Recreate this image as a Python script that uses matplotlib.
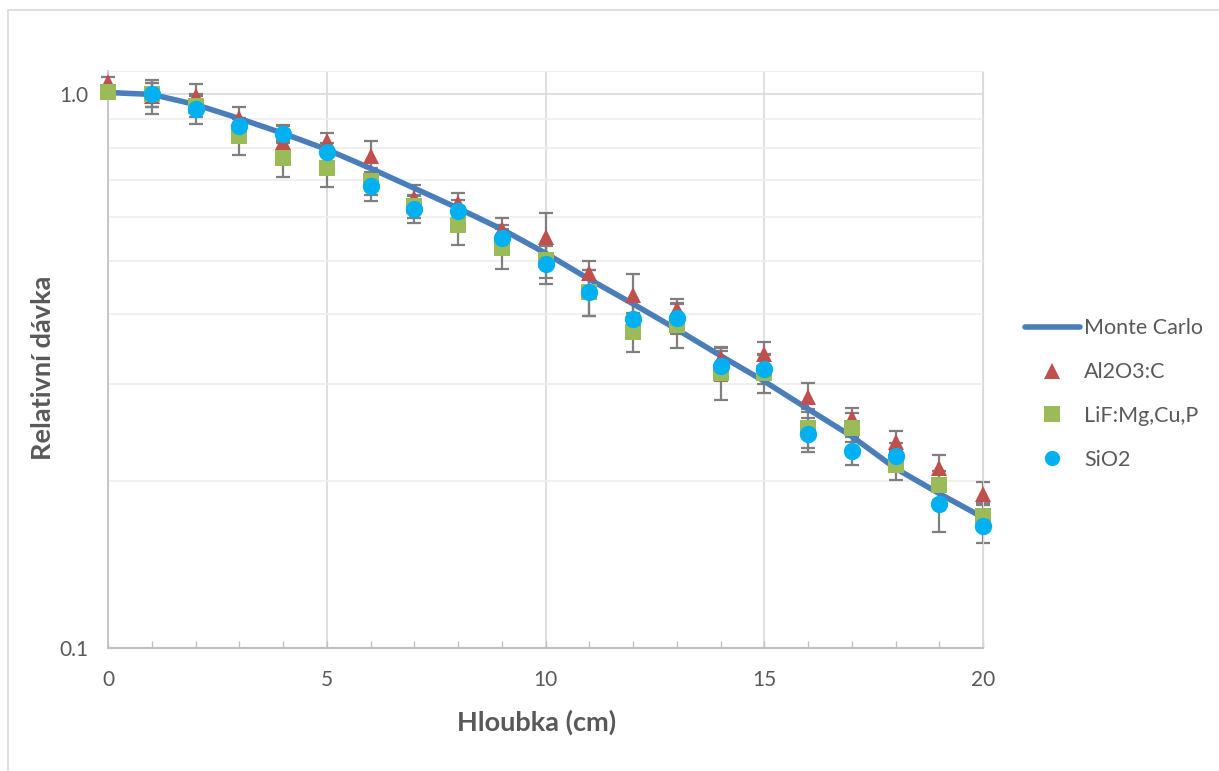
import matplotlib
matplotlib.use('Agg')
import matplotlib.pyplot as plt
import matplotlib.ticker as ticker
from matplotlib.lines import Line2D
from matplotlib.patches import Rectangle
import numpy as np

plt.rcParams['font.family'] = ['Lato', 'DejaVu Sans']

# data
depth = np.arange(0, 21)
monte_carlo = [1.006, 0.998, 0.957, 0.903, 0.849, 0.794, 0.734, 0.676, 0.622, 0.570, 0.516,
               0.463, 0.418, 0.376, 0.337, 0.303, 0.270, 0.241, 0.211, 0.190, 0.172]
al2o3 = [1.053, 0.99, 0.99, 0.903, 0.818, 0.821, 0.772, 0.648, 0.635, 0.570, 0.551,
         0.475, 0.434, 0.409, 0.334, 0.340, 0.284, 0.260, 0.235, 0.211, 0.190]
al2o3_err = [0.02, 0.07, 0.05, 0.045, 0.06, 0.03, 0.05, 0.037, 0.027, 0.027, 0.059,
             0.024, 0.039, 0.017, 0.015, 0.017, 0.017, 0.011, 0.011, 0.012, 0.009]
lif = [1.010, 0.998, 0.950, 0.838, 0.765, 0.734, 0.696, 0.627, 0.580, 0.527, 0.501,
       0.439, 0.372, 0.383, 0.314, 0.313, 0.250, 0.250, 0.214, 0.197, 0.173]
lif_err = [0.02, 0.05, 0.04, 0.062, 0.058, 0.055, 0.04, 0.03, 0.047, 0.044, 0.035,
           0.042, 0.03, 0.035, 0.034, 0.025, 0.02, 0.015, 0.013, 0.012, 0.01]
sio2 = [np.nan, 0.998, 0.941, 0.874, 0.846, 0.785, 0.681, 0.619, 0.614, 0.549, 0.493,
        0.439, 0.392, 0.394, 0.323, 0.319, 0.243, 0.227, 0.222, 0.182, 0.166]
sio2_err = [np.nan, 0.05, 0.059, 0.03, 0.03, 0.03, 0.04, 0.035, 0.03, 0.03, 0.039,
            0.042, 0.03, 0.025, 0.02, 0.02, 0.017, 0.013, 0.012, 0.02, 0.011]

c_mc = '#4A7EBB'
c_al = '#C0504D'
c_lif = '#9BBB59'
c_si = '#00B0F0'
grey = '#595959'

fig = plt.figure(figsize=(12.19, 7.71), dpi=100)
ax = fig.add_axes([108/1219, 1 - 648/771, (983 - 108)/1219, (648 - 71)/771])

# outer chart frame
fig.patches.append(Rectangle((8/1219, -0.05), 1.2, 1 - 10/771 + 0.05, transform=fig.transFigure,
                             fill=False, edgecolor='#d9d9d9', linewidth=1.2))

ax.plot(depth, monte_carlo, color=c_mc, linewidth=4, solid_capstyle='round',
        solid_joinstyle='round', zorder=3)

for vals, errs in [(al2o3, al2o3_err), (lif, lif_err), (sio2, sio2_err)]:
    ax.errorbar(depth, vals, yerr=errs, fmt='none', ecolor='#7f7f7f', elinewidth=1.6,
                capsize=5, capthick=1.6, zorder=2, clip_on=False)

ax.plot(depth, al2o3, linestyle='none', marker='^', markersize=12, color=c_al,
        markeredgewidth=0, zorder=4, clip_on=False)
ax.plot(depth, lif, linestyle='none', marker='s', markersize=12, color=c_lif,
        markeredgewidth=0, zorder=5, clip_on=False)
ax.plot(depth, sio2, linestyle='none', marker='o', markersize=12.5, color=c_si,
        markeredgewidth=0, zorder=6, clip_on=False)

ax.set_yscale('log')
ax.set_xlim(0, 20)
ax.set_ylim(0.1, 1.1)

ax.yaxis.set_major_locator(ticker.FixedLocator([0.1, 1.0]))
ax.yaxis.set_major_formatter(ticker.FormatStrFormatter('%.1f'))
ax.yaxis.set_minor_locator(ticker.FixedLocator([0.2, 0.3, 0.4, 0.5, 0.6, 0.7, 0.8, 0.9]))
ax.yaxis.set_minor_formatter(ticker.NullFormatter())
ax.xaxis.set_major_locator(ticker.MultipleLocator(5))
ax.xaxis.set_minor_locator(ticker.MultipleLocator(1))

ax.tick_params(axis='y', which='both', length=0, labelsize=15, labelcolor=grey, pad=14)
ax.tick_params(axis='x', which='both', direction='in', length=5, width=1, color='#bfbfbf',
               labelsize=15, labelcolor=grey, pad=16)

ax.grid(axis='y', which='major', color='#d9d9d9', linewidth=1.2)
ax.grid(axis='y', which='minor', color='#eeeeee', linewidth=1.2)
ax.grid(axis='x', which='major', color='#d9d9d9', linewidth=1.2)
ax.set_axisbelow(True)

ax.spines['left'].set_color('#bfbfbf')
ax.spines['bottom'].set_color('#bfbfbf')
ax.spines['left'].set_linewidth(1.2)
ax.spines['bottom'].set_linewidth(1.5)
ax.spines['top'].set_color('#eeeeee')
ax.spines['right'].set_color('#d9d9d9')

ax.set_xlabel('Hloubka (cm)', fontsize=19.5, fontweight='bold', color=grey)
ax.set_ylabel('Relativní dávka', fontsize=19.5, fontweight='bold', color=grey)
ax.xaxis.set_label_coords((537 - 108) / 875, (648 - 722) / 577)
ax.yaxis.set_label_coords((43 - 108) / 875, (648 - 368) / 577)
ax.xaxis.label.set_va('center')
ax.yaxis.label.set_va('center')

handles = [
    Line2D([], [], color=c_mc, linewidth=4, solid_capstyle='round'),
    Line2D([], [], linestyle='none', marker='^', markersize=12, color=c_al, markeredgewidth=0),
    Line2D([], [], linestyle='none', marker='s', markersize=11, color=c_lif, markeredgewidth=0),
    Line2D([], [], linestyle='none', marker='o', markersize=11, color=c_si, markeredgewidth=0),
]
labels = ['Monte Carlo', 'Al2O3:C', 'LiF:Mg,Cu,P', 'SiO2']
leg = fig.legend(handles, labels, loc='center left', bbox_to_anchor=(1014/1219, 1 - 394/771),
                 frameon=False, fontsize=15.5, handlelength=2.55, handletextpad=0.2,
                 labelspacing=1.1, borderpad=0)
for t in leg.get_texts():
    t.set_color(grey)

fig.savefig('out.png', dpi=100)
